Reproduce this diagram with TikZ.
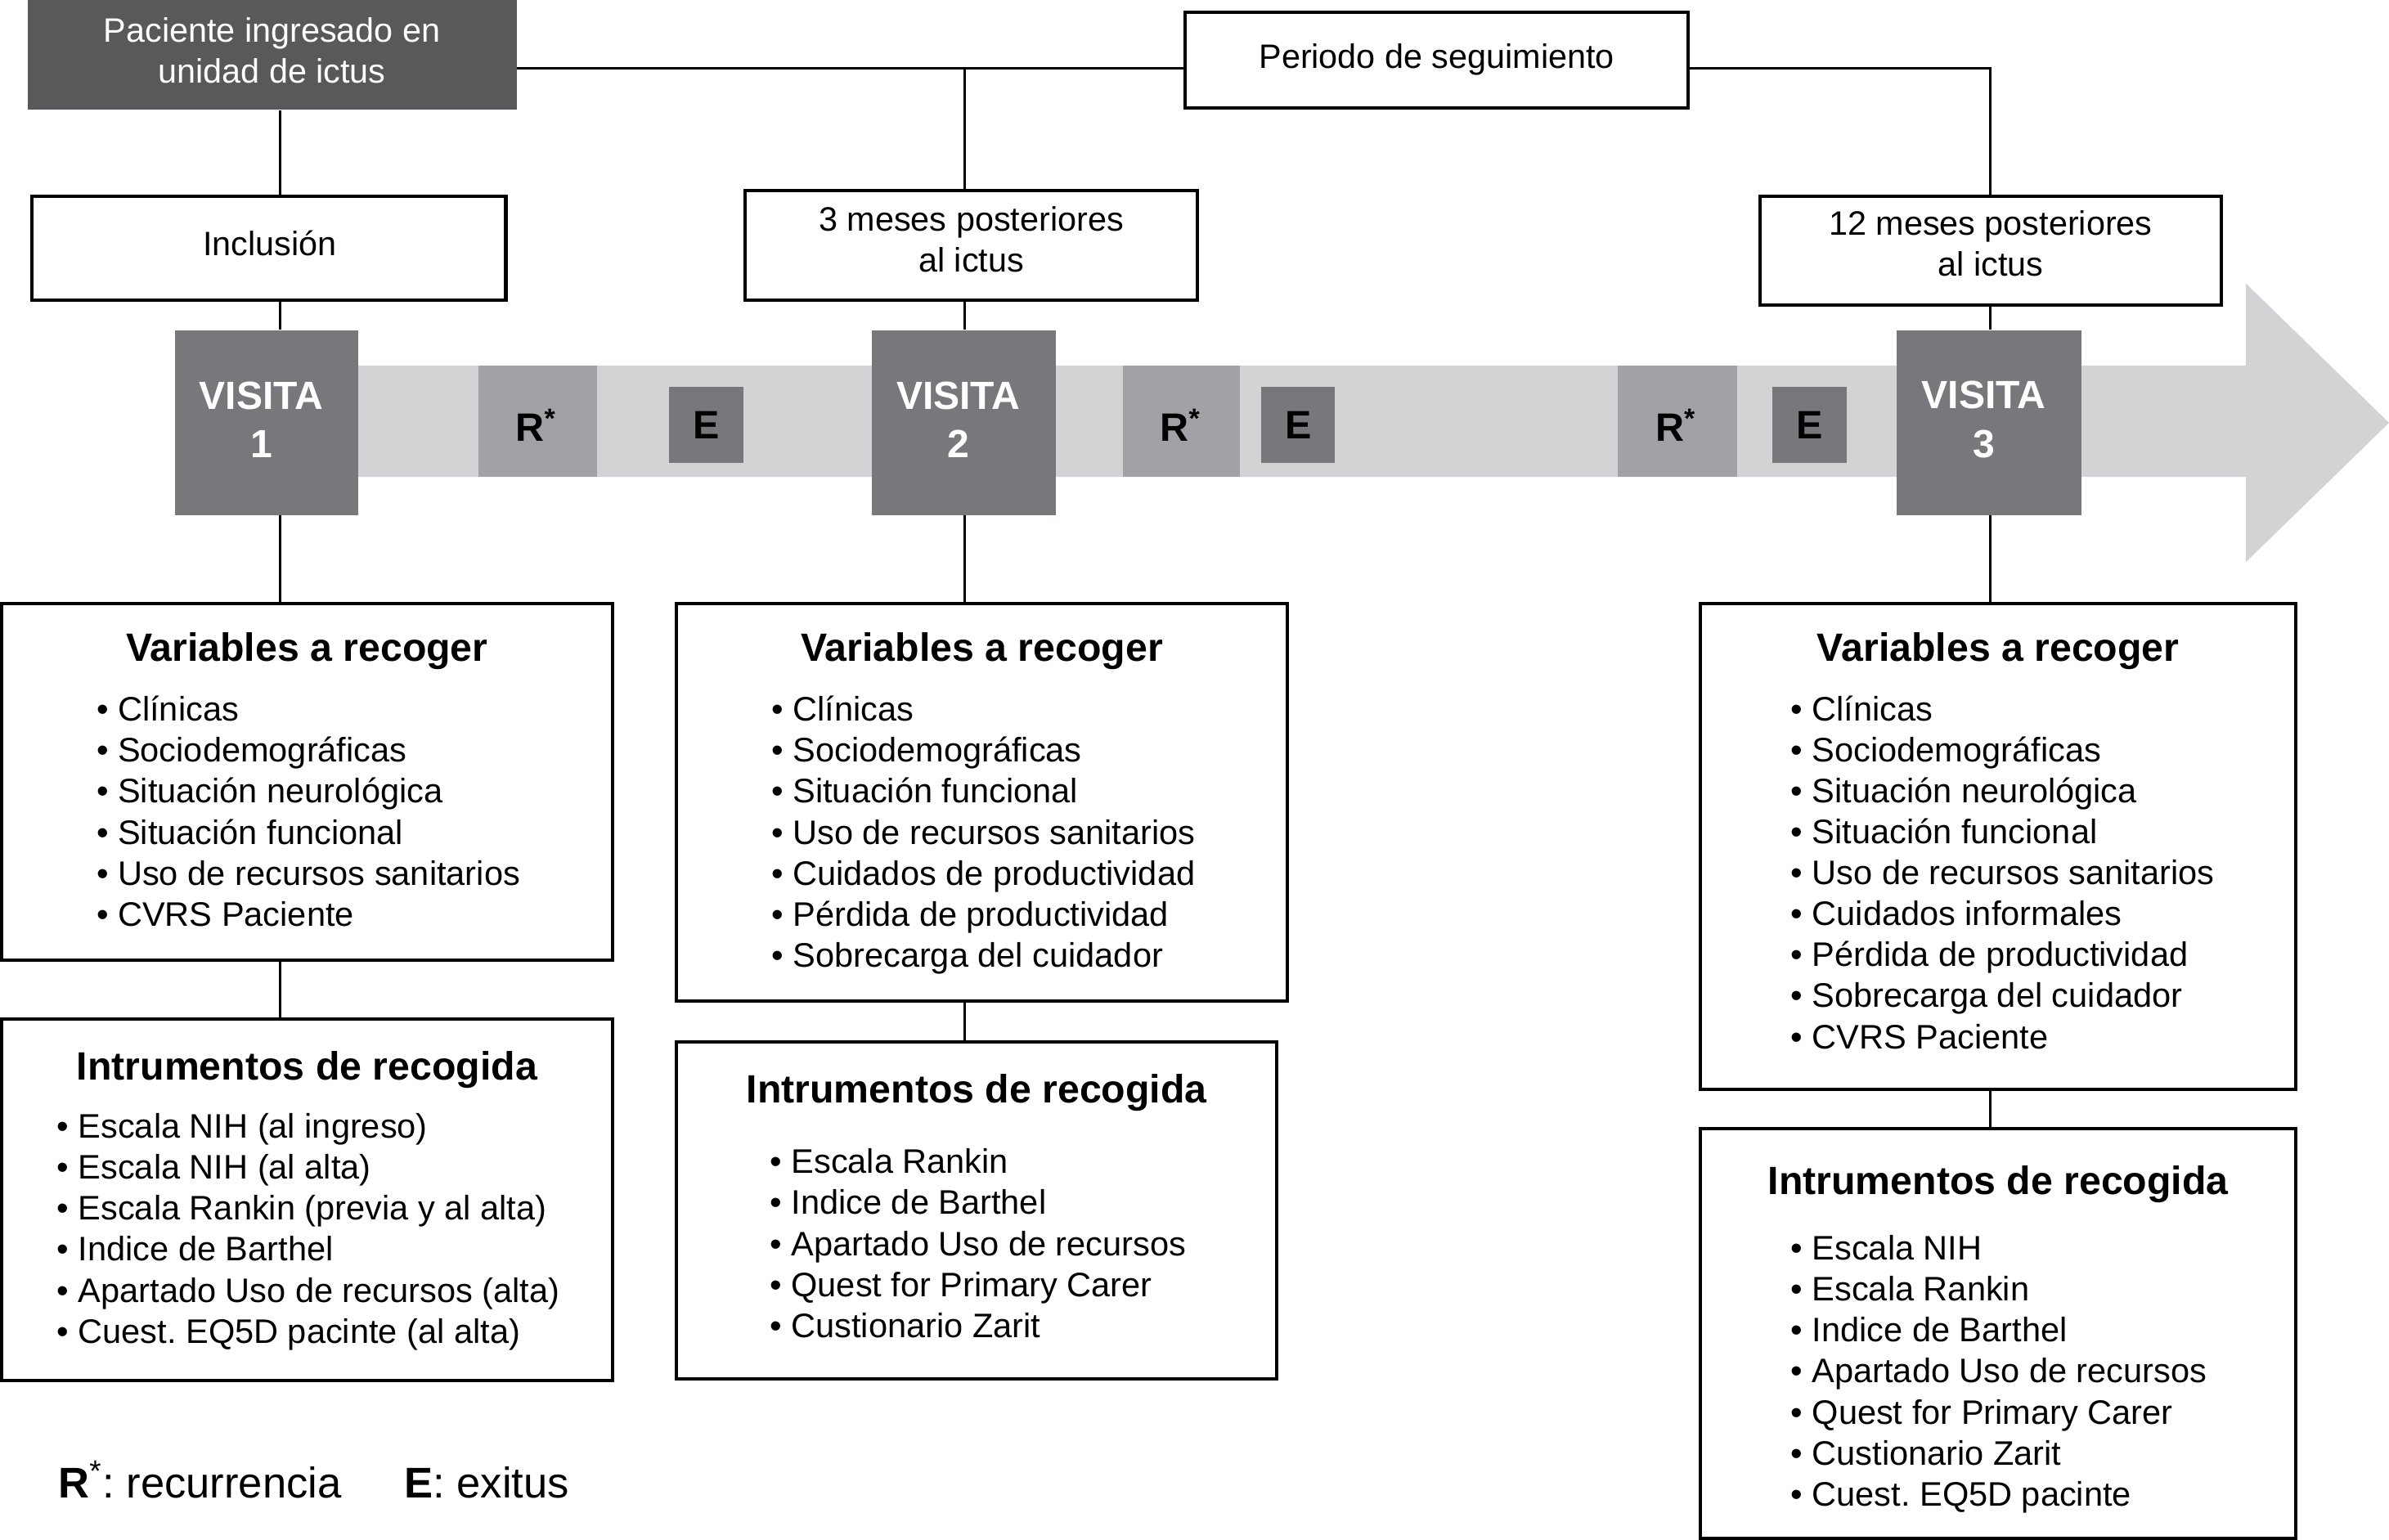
\documentclass[tikz,border=0pt]{standalone}
\usepackage{fontspec}
\setmainfont{Liberation Sans}
\usetikzlibrary{fit}
\definecolor{darkbox}{HTML}{58595B}
\definecolor{visgray}{HTML}{77787B}
\definecolor{rgray}{HTML}{A0A2A5}
\definecolor{arrowgray}{HTML}{D1D3D4}
\frenchspacing
\begin{document}
\frenchspacing
\begin{tikzpicture}[x=0.5pt,y=-0.5pt,
  box/.style={draw=black,line width=1.1pt,fill=white,inner sep=0pt},
  conn/.style={draw=black,line width=0.8pt},
  darkfill/.style={fill=darkbox,draw=none,inner sep=0pt},
  visfill/.style={fill=visgray,draw=none,inner sep=0pt},
  rfill/.style={fill=rgray,draw=none,inner sep=0pt},
  plain/.style={font=\fontsize{11.1}{13.5}\selectfont,inner sep=0pt,align=center},
  itemtxt/.style={font=\fontsize{11.15}{13.5}\selectfont,inner sep=0pt,anchor=base west},
  hdr/.style={font=\fontsize{12.95}{15}\selectfont\bfseries,inner sep=0pt,anchor=base},
  vtxt/.style={font=\fontsize{12.9}{16}\selectfont\bfseries,text=white,inner sep=0pt,align=center},
  retxt/.style={font=\fontsize{13}{15}\selectfont\bfseries,inner sep=0pt},
  legtxt/.style={font=\fontsize{14.1}{16}\selectfont,inner sep=0pt,anchor=base west}
]
\useasboundingbox (0,0) rectangle (1568,1010.8);

% helper coordinates for connector columns
\coordinate (hy) at (0,45);
\coordinate (x1) at (184,0);
\coordinate (x2) at (633,0);
\coordinate (x3) at (1306.5,0);

% timeline arrow
\fill[arrowgray] (175,240) -- (1474,240) -- (1474,186) -- (1568,277.5) -- (1474,369) -- (1474,313) -- (175,313) -- cycle;

% top boxes
\node[darkfill, fit={(18,0) (339,72)}] (pac) {};
\node[plain, text=white] (pact) at (178.5,33) {Paciente ingresado en\\unidad de ictus};
\node[box, fit={(778,8) (1108,71)}] (per) {};
\node[plain, anchor=base] (pert) at (943,45) {Periodo de seguimiento};

\node[box, fit={(21,129) (332,197)}] (inc) {};
\node[plain, anchor=base] (inct) at (177,168) {Inclusión};
\node[box, fit={(489,125) (786,197)}] (m3) {};
\node[plain] (m3t) at (637.5,157) {3 meses posteriores\\al ictus};
\node[box, fit={(1155,129) (1458,200)}] (m12) {};
\node[plain] (m12t) at (1306.5,160) {12 meses posteriores\\al ictus};

% connectors at top
\draw[conn] (pac.east |- hy) -- (per.west |- hy);
\draw[conn] (per.east |- hy) -| (m12.north);
\draw[conn] (x2 |- hy) -- (x2 |- m3.north);
\draw[conn] (x1 |- pac.south) -- (x1 |- inc.north);

% visits
\node[visfill, fit={(115,217) (235,338)}] (vis1) {};
\node[vtxt] (vis1t) at ([shift={(-3.5,-2)}]vis1.center) {VISITA\\1};
\node[visfill, fit={(572,217) (693,338)}] (vis2) {};
\node[vtxt] (vis2t) at ([shift={(-3.5,-2)}]vis2.center) {VISITA\\2};
\node[visfill, fit={(1245,217) (1366,338)}] (vis3) {};
\node[vtxt] (vis3t) at ([shift={(-3.5,-2)}]vis3.center) {VISITA\\3};

% R and E markers
\node[rfill, fit={(314,240) (392,313)}] (r1) {};
\node[retxt] (r1t) at (352,279) {R\textsuperscript{*}};
\node[visfill, fit={(439,254) (488,304)}] (e1) {};
\node[retxt] (e1t) at (e1.center) {E};
\node[rfill, fit={(737,240) (814,313)}] (r2) {};
\node[retxt] (r2t) at (775,279) {R\textsuperscript{*}};
\node[visfill, fit={(828,254) (876,304)}] (e2) {};
\node[retxt] (e2t) at (e2.center) {E};
\node[rfill, fit={(1062,240) (1140,313)}] (r3) {};
\node[retxt] (r3t) at (1100,279) {R\textsuperscript{*}};
\node[visfill, fit={(1163,254) (1212,304)}] (e3) {};
\node[retxt] (e3t) at (e3.center) {E};

% variable and instrument boxes
\node[box, fit={(1,396) (402,630)}] (var1) {};
\node[box, fit={(1,669) (402,906)}] (ins1) {};
\node[box, fit={(444,396) (845,657)}] (var2) {};
\node[box, fit={(444,684) (838,905)}] (ins2) {};
\node[box, fit={(1116,396) (1507,715)}] (var3) {};
\node[box, fit={(1116,741) (1507,1009.5)}] (ins3) {};

% vertical connectors
\draw[conn] (x1 |- inc.south) -- (x1 |- vis1.north);
\draw[conn] (x1 |- vis1.south) -- (x1 |- var1.north);
\draw[conn] (x1 |- var1.south) -- (x1 |- ins1.north);
\draw[conn] (x2 |- m3.south) -- (x2 |- vis2.north);
\draw[conn] (x2 |- vis2.south) -- (x2 |- var2.north);
\draw[conn] (x2 |- var2.south) -- (x2 |- ins2.north);
\draw[conn] (x3 |- m12.south) -- (x3 |- vis3.north);
\draw[conn] (x3 |- vis3.south) -- (x3 |- var3.north);
\draw[conn] (x3 |- var3.south) -- (x3 |- ins3.north);

% headers
\node[hdr] (h1) at (201.5,434) {Variables a recoger};
\node[hdr] (h2) at (201.5,709) {Intrumentos de recogida};
\node[hdr] (h3) at (644.5,434) {Variables a recoger};
\node[hdr] (h4) at (641,724) {Intrumentos de recogida};
\node[hdr] (h5) at (1311.5,434) {Variables a recoger};
\node[hdr] (h6) at (1311.5,784) {Intrumentos de recogida};

% lists
\foreach \t [count=\i] in {Clínicas,Sociodemográficas,Situación neurológica,Situación funcional,Uso de recursos sanitarios,CVRS Paciente}
  \node[itemtxt] (a\i) at (63,{473+27*(\i-1)}) {•\ \t};
\foreach \t [count=\i] in {Escala NIH (al ingreso),Escala NIH (al alta),Escala Rankin (previa y al alta),Indice de Barthel,Apartado Uso de recursos (alta),Cuest. EQ5D pacinte (al alta)}
  \node[itemtxt] (b\i) at (37,{747+26.9*(\i-1)}) {•\ \t};
\foreach \t [count=\i] in {Clínicas,Sociodemográficas,Situación funcional,Uso de recursos sanitarios,Cuidados de productividad,Pérdida de productividad,Sobrecarga del cuidador}
  \node[itemtxt] (c\i) at (506,{473+27*(\i-1)}) {•\ \t};
\foreach \t [count=\i] in {Escala Rankin,Indice de Barthel,Apartado Uso de recursos,Quest for Primary Carer,Custionario Zarit}
  \node[itemtxt] (d\i) at (505,{770+27*(\i-1)}) {•\ \t};
\foreach \t [count=\i] in {Clínicas,Sociodemográficas,Situación neurológica,Situación funcional,Uso de recursos sanitarios,Cuidados informales,Pérdida de productividad,Sobrecarga del cuidador,CVRS Paciente}
  \node[itemtxt] (e\i) at (1175,{473+26.9*(\i-1)}) {•\ \t};
\foreach \t [count=\i] in {Escala NIH,Escala Rankin,Indice de Barthel,Apartado Uso de recursos,Quest for Primary Carer,Custionario Zarit,Cuest. EQ5D pacinte}
  \node[itemtxt] (f\i) at (1175,{827+26.9*(\i-1)}) {•\ \t};

% legend
\node[legtxt] (leg1) at (38,983) {\textbf{R}\textsuperscript{*}:\ recurrencia};
\node[legtxt] (leg2) at (265,983) {\textbf{E}: exitus};
\end{tikzpicture}
\end{document}
